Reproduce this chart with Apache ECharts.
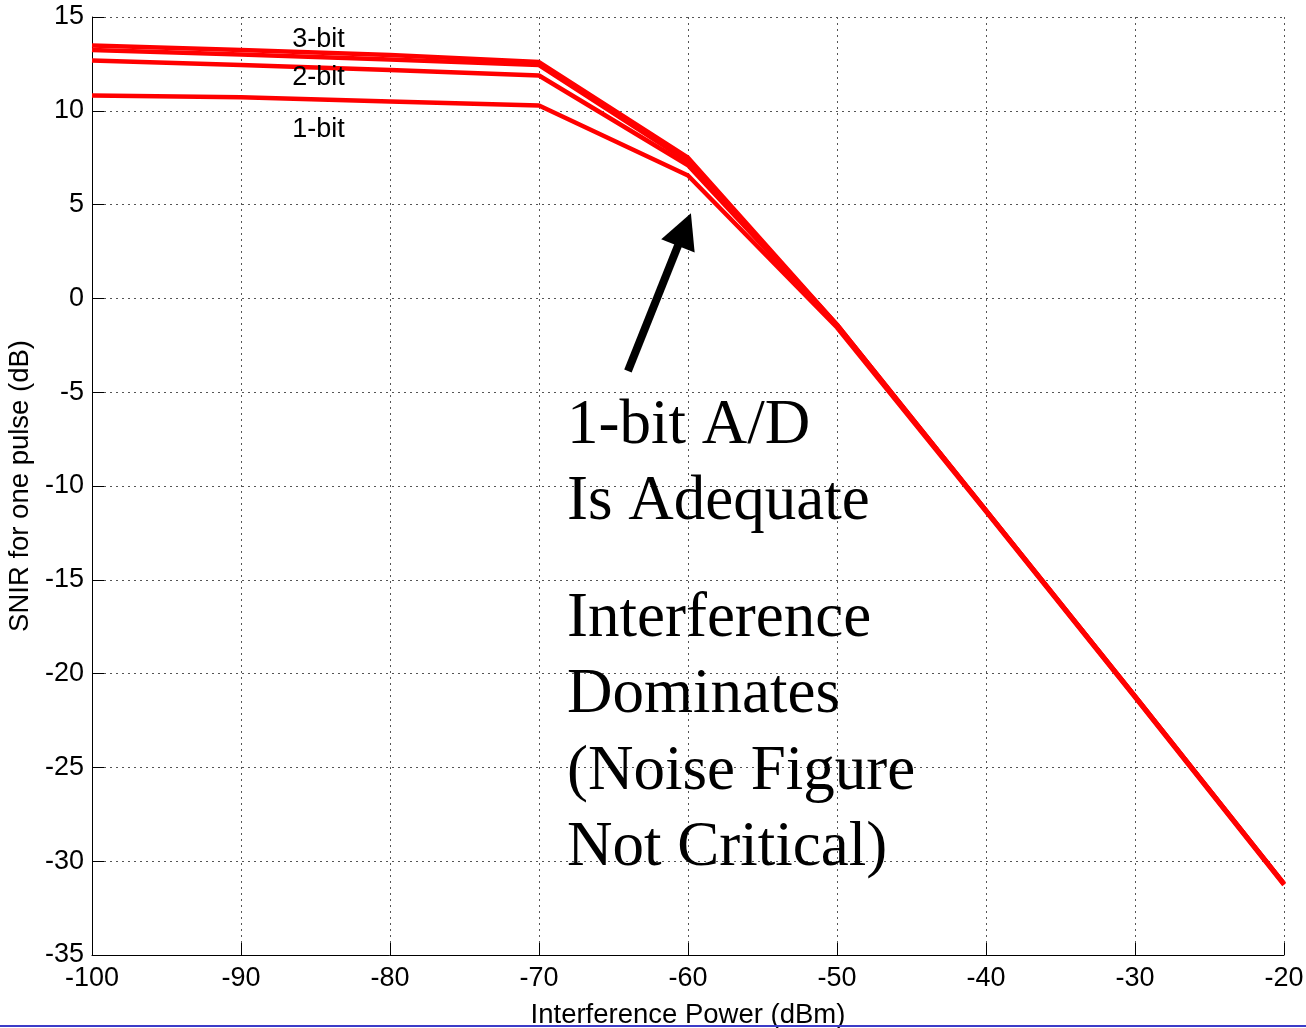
<!DOCTYPE html>
<html><head><meta charset="utf-8">
<script src="https://cdn.jsdelivr.net/npm/echarts@6/dist/echarts.min.js"></script>
<style>html,body{margin:0;padding:0;background:#fff}#c{width:1306px;height:1028px}</style>
</head><body><div id="c"></div>
<script>
// ---- data ----
const xValues  = [-100, -90, -80, -70, -60, -50, -40, -30, -20];
const snirHigh = [13.48, 13.24, 12.97, 12.60, 7.50, -1.40, -11.30, -21.20, -31.20];
const snir3bit = [13.24, 13.00, 12.73, 12.44, 7.30, -1.40, -11.30, -21.20, -31.20];
const snir2bit = [12.68, 12.44, 12.17, 11.88, 7.10, -1.45, -11.32, -21.22, -31.22];
const snir1bit = [10.82, 10.72, 10.50, 10.28, 6.55, -1.55, -11.36, -21.26, -31.26];
const seriesNames = ['4-bit', '3-bit', '2-bit', '1-bit'];
const curveLabels = ['3-bit', '2-bit', '1-bit'];
const curveLabelX = -84.8;
const curveLabelY = [13.8, 11.78, 9.0];
const arrowFrom = [-64.03, -3.87];
const arrowTo = [-60.24, 3.67];
const noteTop = ['1-bit A/D', 'Is Adequate'];
const noteBottom = ['Interference', 'Dominates', '(Noise Figure', 'Not Critical)'];
const xTitle = 'Interference Power (dBm)';
const yTitle = 'SNIR for one pulse (dB)';

const allSeries = [snirHigh, snir3bit, snir2bit, snir1bit];
const pairs = arr => xValues.map((x, i) => [x, arr[i]]);

const chart = echarts.init(document.getElementById('c'), null, {renderer: 'canvas'});
const sans = 'Liberation Sans, Arial, sans-serif';
const serif = 'Liberation Serif, Times New Roman, serif';

const series = allSeries.map((arr, i) => ({
  name: seriesNames[i],
  type: 'line',
  data: pairs(arr),
  showSymbol: false,
  symbol: 'none',
  lineStyle: {color: '#ff0000', width: 4.5},
  itemStyle: {color: '#ff0000'},
  z: 3
}));
series[3].markLine = {
  silent: true,
  symbol: ['none', 'triangle'],
  symbolSize: [36, 35],
  label: {show: false},
  lineStyle: {color: '#000', width: 8, type: 'solid'},
  itemStyle: {color: '#000'},
  data: [[{coord: arrowFrom}, {coord: arrowTo}]]
};

chart.setOption({
  animation: false,
  backgroundColor: '#fff',
  grid: {left: 92, right: 22, top: 17, bottom: 73, containLabel: false, outerBoundsMode: 'none'},
  xAxis: {
    type: 'value', min: -100, max: -20, interval: 10,
    name: xTitle, nameLocation: 'middle', nameGap: 46,
    nameTextStyle: {fontFamily: sans, fontSize: 27.5, color: '#000'},
    axisLine: {show: true, onZero: false, lineStyle: {color: '#000', width: 1}},
    axisTick: {show: true, inside: true, length: 12, lineStyle: {color: '#000'}},
    axisLabel: {fontFamily: sans, fontSize: 27, color: '#000', margin: 10},
    splitLine: {show: true, lineStyle: {color: '#555', width: 1, type: [2, 4]}}
  },
  yAxis: {
    type: 'value', min: -35, max: 15, interval: 5,
    name: yTitle, nameLocation: 'middle', nameGap: 53,
    nameTextStyle: {fontFamily: sans, fontSize: 27.5, color: '#000'},
    axisLine: {show: true, onZero: false, lineStyle: {color: '#000', width: 1}},
    axisTick: {show: true, inside: true, length: 12, lineStyle: {color: '#000'}},
    axisLabel: {fontFamily: sans, fontSize: 27, color: '#000', margin: 8},
    splitLine: {show: true, lineStyle: {color: '#555', width: 1, type: [2, 4]}}
  },
  series: series
});

const graphics = [];
curveLabels.forEach((t, i) => {
  const p = chart.convertToPixel({gridIndex: 0}, [curveLabelX, curveLabelY[i]]);
  graphics.push({type: 'text', x: p[0], y: p[1], z: 10,
    style: {text: t, fontFamily: sans, fontSize: 27, fill: '#000', align: 'center', verticalAlign: 'middle'}});
});
graphics.push({type: 'text', x: 567, y: 388, z: 10,
  style: {text: noteTop.join('\n'), fontFamily: serif, fontSize: 63, lineHeight: 76.5, fill: '#000', align: 'left', verticalAlign: 'top'}});
graphics.push({type: 'text', x: 567, y: 581, z: 10,
  style: {text: noteBottom.join('\n'), fontFamily: serif, fontSize: 63, lineHeight: 76.5, fill: '#000', align: 'left', verticalAlign: 'top'}});
graphics.push({type: 'rect', shape: {x: 0, y: 1025, width: 1306, height: 2}, style: {fill: '#3c3cc8'}, z: 10});
chart.setOption({graphic: graphics});
</script>
</body></html>
